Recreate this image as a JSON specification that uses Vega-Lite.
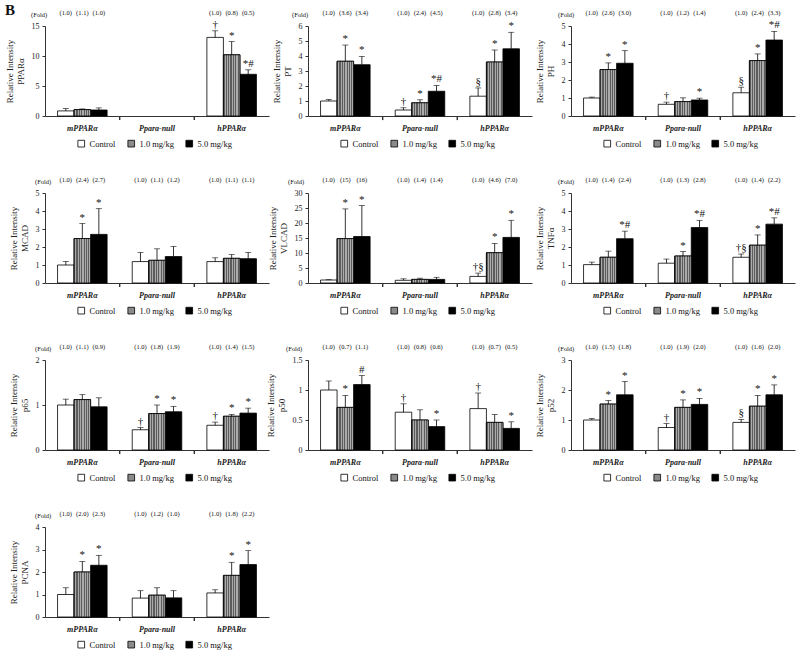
{
  "$schema": "https://vega.github.io/schema/vega-lite/v6.json",
  "padding": {"left": 5, "top": 3, "right": 5, "bottom": 5},
  "title": {"text": "B", "anchor": "start", "fontSize": 15, "fontWeight": "bold", "offset": -8, "font": "Liberation Serif", "color": "#111"},
  "data": {"values": [
    {"p":"PPARα","g":"mPPARα","d":"Control","v":0.85,"hi":1.25,"s":"","f":"(1.0)"},
    {"p":"PPARα","g":"mPPARα","d":"1.0 mg/kg","v":1.07,"hi":1.18,"s":"","f":"(1.1)"},
    {"p":"PPARα","g":"mPPARα","d":"5.0 mg/kg","v":1.0,"hi":1.35,"s":"","f":"(1.0)"},
    {"p":"PPARα","g":"hPPARα","d":"Control","v":13.1,"hi":14.2,"s":"†","f":"(1.0)"},
    {"p":"PPARα","g":"hPPARα","d":"1.0 mg/kg","v":10.2,"hi":12.4,"s":"*","f":"(0.8)"},
    {"p":"PPARα","g":"hPPARα","d":"5.0 mg/kg","v":6.95,"hi":7.7,"s":"*#","f":"(0.5)"},

    {"p":"PT","g":"mPPARα","d":"Control","v":1.0,"hi":1.1,"s":"","f":"(1.0)"},
    {"p":"PT","g":"mPPARα","d":"1.0 mg/kg","v":3.65,"hi":4.73,"s":"*","f":"(3.6)"},
    {"p":"PT","g":"mPPARα","d":"5.0 mg/kg","v":3.42,"hi":3.97,"s":"*","f":"(3.4)"},
    {"p":"PT","g":"Ppara-null","d":"Control","v":0.4,"hi":0.55,"s":"†","f":"(1.0)"},
    {"p":"PT","g":"Ppara-null","d":"1.0 mg/kg","v":0.88,"hi":1.08,"s":"*","f":"(2.4)"},
    {"p":"PT","g":"Ppara-null","d":"5.0 mg/kg","v":1.65,"hi":2.04,"s":"*#","f":"(4.5)"},
    {"p":"PT","g":"hPPARα","d":"Control","v":1.32,"hi":1.87,"s":"§","f":"(1.0)"},
    {"p":"PT","g":"hPPARα","d":"1.0 mg/kg","v":3.6,"hi":4.4,"s":"*","f":"(2.8)"},
    {"p":"PT","g":"hPPARα","d":"5.0 mg/kg","v":4.48,"hi":5.58,"s":"*","f":"(3.4)"},

    {"p":"PH","g":"mPPARα","d":"Control","v":1.0,"hi":1.05,"s":"","f":"(1.0)"},
    {"p":"PH","g":"mPPARα","d":"1.0 mg/kg","v":2.58,"hi":2.95,"s":"*","f":"(2.6)"},
    {"p":"PH","g":"mPPARα","d":"5.0 mg/kg","v":2.93,"hi":3.63,"s":"*","f":"(3.0)"},
    {"p":"PH","g":"Ppara-null","d":"Control","v":0.65,"hi":0.77,"s":"†","f":"(1.0)"},
    {"p":"PH","g":"Ppara-null","d":"1.0 mg/kg","v":0.8,"hi":1.01,"s":"","f":"(1.2)"},
    {"p":"PH","g":"Ppara-null","d":"5.0 mg/kg","v":0.89,"hi":0.99,"s":"*","f":"(1.4)"},
    {"p":"PH","g":"hPPARα","d":"Control","v":1.29,"hi":1.6,"s":"§","f":"(1.0)"},
    {"p":"PH","g":"hPPARα","d":"1.0 mg/kg","v":3.08,"hi":3.45,"s":"*","f":"(2.4)"},
    {"p":"PH","g":"hPPARα","d":"5.0 mg/kg","v":4.22,"hi":4.7,"s":"*#","f":"(3.3)"},

    {"p":"MCAD","g":"mPPARα","d":"Control","v":1.0,"hi":1.2,"s":"","f":"(1.0)"},
    {"p":"MCAD","g":"mPPARα","d":"1.0 mg/kg","v":2.47,"hi":3.3,"s":"*","f":"(2.4)"},
    {"p":"MCAD","g":"mPPARα","d":"5.0 mg/kg","v":2.7,"hi":4.13,"s":"*","f":"(2.7)"},
    {"p":"MCAD","g":"Ppara-null","d":"Control","v":1.19,"hi":1.7,"s":"","f":"(1.0)"},
    {"p":"MCAD","g":"Ppara-null","d":"1.0 mg/kg","v":1.26,"hi":1.9,"s":"","f":"(1.1)"},
    {"p":"MCAD","g":"Ppara-null","d":"5.0 mg/kg","v":1.47,"hi":2.03,"s":"","f":"(1.2)"},
    {"p":"MCAD","g":"hPPARα","d":"Control","v":1.19,"hi":1.4,"s":"","f":"(1.0)"},
    {"p":"MCAD","g":"hPPARα","d":"1.0 mg/kg","v":1.37,"hi":1.58,"s":"","f":"(1.1)"},
    {"p":"MCAD","g":"hPPARα","d":"5.0 mg/kg","v":1.35,"hi":1.7,"s":"","f":"(1.1)"},

    {"p":"VLCAD","g":"mPPARα","d":"Control","v":1.0,"hi":1.1,"s":"","f":"(1.0)"},
    {"p":"VLCAD","g":"mPPARα","d":"1.0 mg/kg","v":14.8,"hi":24.7,"s":"*","f":"(15)"},
    {"p":"VLCAD","g":"mPPARα","d":"5.0 mg/kg","v":15.5,"hi":25.8,"s":"*","f":"(16)"},
    {"p":"VLCAD","g":"Ppara-null","d":"Control","v":0.9,"hi":1.4,"s":"","f":"(1.0)"},
    {"p":"VLCAD","g":"Ppara-null","d":"1.0 mg/kg","v":1.2,"hi":1.6,"s":"","f":"(1.4)"},
    {"p":"VLCAD","g":"Ppara-null","d":"5.0 mg/kg","v":1.2,"hi":1.9,"s":"","f":"(1.4)"},
    {"p":"VLCAD","g":"hPPARα","d":"Control","v":2.2,"hi":3.3,"s":"†§","f":"(1.0)"},
    {"p":"VLCAD","g":"hPPARα","d":"1.0 mg/kg","v":10.1,"hi":13.2,"s":"*","f":"(4.6)"},
    {"p":"VLCAD","g":"hPPARα","d":"5.0 mg/kg","v":15.2,"hi":20.9,"s":"*","f":"(7.0)"},

    {"p":"TNFα","g":"mPPARα","d":"Control","v":1.02,"hi":1.16,"s":"","f":"(1.0)"},
    {"p":"TNFα","g":"mPPARα","d":"1.0 mg/kg","v":1.43,"hi":1.77,"s":"","f":"(1.4)"},
    {"p":"TNFα","g":"mPPARα","d":"5.0 mg/kg","v":2.46,"hi":2.88,"s":"*#","f":"(2.4)"},
    {"p":"TNFα","g":"Ppara-null","d":"Control","v":1.1,"hi":1.33,"s":"","f":"(1.0)"},
    {"p":"TNFα","g":"Ppara-null","d":"1.0 mg/kg","v":1.5,"hi":1.75,"s":"*","f":"(1.3)"},
    {"p":"TNFα","g":"Ppara-null","d":"5.0 mg/kg","v":3.08,"hi":3.48,"s":"*#","f":"(2.8)"},
    {"p":"TNFα","g":"hPPARα","d":"Control","v":1.43,"hi":1.61,"s":"†§","f":"(1.0)"},
    {"p":"TNFα","g":"hPPARα","d":"1.0 mg/kg","v":2.1,"hi":2.67,"s":"*","f":"(1.4)"},
    {"p":"TNFα","g":"hPPARα","d":"5.0 mg/kg","v":3.27,"hi":3.62,"s":"*#","f":"(2.2)"},

    {"p":"p65","g":"mPPARα","d":"Control","v":1.0,"hi":1.13,"s":"","f":"(1.0)"},
    {"p":"p65","g":"mPPARα","d":"1.0 mg/kg","v":1.12,"hi":1.23,"s":"","f":"(1.1)"},
    {"p":"p65","g":"mPPARα","d":"5.0 mg/kg","v":0.96,"hi":1.16,"s":"","f":"(0.9)"},
    {"p":"p65","g":"Ppara-null","d":"Control","v":0.45,"hi":0.5,"s":"†","f":"(1.0)"},
    {"p":"p65","g":"Ppara-null","d":"1.0 mg/kg","v":0.81,"hi":1.0,"s":"*","f":"(1.8)"},
    {"p":"p65","g":"Ppara-null","d":"5.0 mg/kg","v":0.85,"hi":0.97,"s":"*","f":"(1.9)"},
    {"p":"p65","g":"hPPARα","d":"Control","v":0.55,"hi":0.62,"s":"†","f":"(1.0)"},
    {"p":"p65","g":"hPPARα","d":"1.0 mg/kg","v":0.75,"hi":0.79,"s":"*","f":"(1.4)"},
    {"p":"p65","g":"hPPARα","d":"5.0 mg/kg","v":0.82,"hi":0.93,"s":"*","f":"(1.5)"},

    {"p":"p50","g":"mPPARα","d":"Control","v":1.0,"hi":1.15,"s":"","f":"(1.0)"},
    {"p":"p50","g":"mPPARα","d":"1.0 mg/kg","v":0.71,"hi":0.91,"s":"*","f":"(0.7)"},
    {"p":"p50","g":"mPPARα","d":"5.0 mg/kg","v":1.09,"hi":1.24,"s":"#","f":"(1.1)"},
    {"p":"p50","g":"Ppara-null","d":"Control","v":0.63,"hi":0.77,"s":"†","f":"(1.0)"},
    {"p":"p50","g":"Ppara-null","d":"1.0 mg/kg","v":0.5,"hi":0.67,"s":"","f":"(0.8)"},
    {"p":"p50","g":"Ppara-null","d":"5.0 mg/kg","v":0.39,"hi":0.5,"s":"*","f":"(0.6)"},
    {"p":"p50","g":"hPPARα","d":"Control","v":0.69,"hi":0.95,"s":"†","f":"(1.0)"},
    {"p":"p50","g":"hPPARα","d":"1.0 mg/kg","v":0.46,"hi":0.59,"s":"","f":"(0.7)"},
    {"p":"p50","g":"hPPARα","d":"5.0 mg/kg","v":0.36,"hi":0.47,"s":"*","f":"(0.5)"},

    {"p":"p52","g":"mPPARα","d":"Control","v":1.0,"hi":1.05,"s":"","f":"(1.0)"},
    {"p":"p52","g":"mPPARα","d":"1.0 mg/kg","v":1.53,"hi":1.65,"s":"*","f":"(1.5)"},
    {"p":"p52","g":"mPPARα","d":"5.0 mg/kg","v":1.84,"hi":2.28,"s":"*","f":"(1.8)"},
    {"p":"p52","g":"Ppara-null","d":"Control","v":0.75,"hi":0.88,"s":"†","f":"(1.0)"},
    {"p":"p52","g":"Ppara-null","d":"1.0 mg/kg","v":1.42,"hi":1.67,"s":"*","f":"(1.9)"},
    {"p":"p52","g":"Ppara-null","d":"5.0 mg/kg","v":1.52,"hi":1.72,"s":"*","f":"(2.0)"},
    {"p":"p52","g":"hPPARα","d":"Control","v":0.92,"hi":1.02,"s":"§","f":"(1.0)"},
    {"p":"p52","g":"hPPARα","d":"1.0 mg/kg","v":1.46,"hi":1.82,"s":"*","f":"(1.6)"},
    {"p":"p52","g":"hPPARα","d":"5.0 mg/kg","v":1.84,"hi":2.17,"s":"*","f":"(2.0)"},

    {"p":"PCNA","g":"mPPARα","d":"Control","v":1.0,"hi":1.3,"s":"","f":"(1.0)"},
    {"p":"PCNA","g":"mPPARα","d":"1.0 mg/kg","v":2.0,"hi":2.47,"s":"*","f":"(2.0)"},
    {"p":"PCNA","g":"mPPARα","d":"5.0 mg/kg","v":2.3,"hi":2.74,"s":"*","f":"(2.3)"},
    {"p":"PCNA","g":"Ppara-null","d":"Control","v":0.84,"hi":1.17,"s":"","f":"(1.0)"},
    {"p":"PCNA","g":"Ppara-null","d":"1.0 mg/kg","v":0.97,"hi":1.3,"s":"","f":"(1.2)"},
    {"p":"PCNA","g":"Ppara-null","d":"5.0 mg/kg","v":0.85,"hi":1.17,"s":"","f":"(1.0)"},
    {"p":"PCNA","g":"hPPARα","d":"Control","v":1.07,"hi":1.21,"s":"","f":"(1.0)"},
    {"p":"PCNA","g":"hPPARα","d":"1.0 mg/kg","v":1.85,"hi":2.43,"s":"*","f":"(1.8)"},
    {"p":"PCNA","g":"hPPARα","d":"5.0 mg/kg","v":2.33,"hi":2.95,"s":"*","f":"(2.2)"}
  ]},
  "columns": 3,
  "spacing": {"row": 77, "column": 39},
  "bounds": "flush",
  "resolve": {"scale": {"fill": "independent"}, "legend": {"fill": "independent"}},
  "concat": [
    {"width": 224, "height": 90,
     "title": {"text": "(Fold)", "anchor": "start", "fontSize": 6.5, "fontWeight": "normal", "dx": 26, "dy": 8, "offset": 0, "color": "#111"},
     "transform": [{"filter": "datum.p === 'PPARα'"}],
     "encoding": {"x": {"field": "g", "type": "nominal", "scale": {"domain": ["mPPARα", "Ppara-null", "hPPARα"], "paddingInner": 0, "paddingOuter": 0}, "axis": {"title": null}}},
     "layer": [
       {"mark": {"type": "bar", "stroke": "black", "strokeWidth": 0.8},
        "encoding": {
          "xOffset": {"field": "d", "scale": {"domain": ["Control", "1.0 mg/kg", "5.0 mg/kg"], "paddingInner": 0, "paddingOuter": 0.76}},
          "y": {"field": "v", "type": "quantitative", "scale": {"domain": [0, 15], "nice": false}, "axis": {"title": ["Relative Intensity", "PPARα"], "tickCount": 3, "labelOverlap": false, "labelBound": false, "labelFlush": false}},
          "fill": {"field": "d", "type": "nominal", "scale": {"domain": ["Control", "1.0 mg/kg", "5.0 mg/kg"], "range": ["#ffffff", "#8a8a8a", "#000000"]}, "legend": {"title": null, "orient": "none", "legendX": 32, "legendY": 113}}}},
       {"transform": [{"filter": "datum.d === '1.0 mg/kg'"}],
        "mark": {"type": "bar", "stroke": "black", "strokeWidth": 0.8, "fill": {"gradient": "linear", "x1": 0, "x2": 1, "y1": 0, "y2": 0, "stops": [{"offset": 0, "color": "#5c5c5c"}, {"offset": 0.071, "color": "#5c5c5c"}, {"offset": 0.071, "color": "#ababab"}, {"offset": 0.143, "color": "#ababab"}, {"offset": 0.143, "color": "#5c5c5c"}, {"offset": 0.214, "color": "#5c5c5c"}, {"offset": 0.214, "color": "#ababab"}, {"offset": 0.286, "color": "#ababab"}, {"offset": 0.286, "color": "#5c5c5c"}, {"offset": 0.357, "color": "#5c5c5c"}, {"offset": 0.357, "color": "#ababab"}, {"offset": 0.429, "color": "#ababab"}, {"offset": 0.429, "color": "#5c5c5c"}, {"offset": 0.5, "color": "#5c5c5c"}, {"offset": 0.5, "color": "#ababab"}, {"offset": 0.571, "color": "#ababab"}, {"offset": 0.571, "color": "#5c5c5c"}, {"offset": 0.643, "color": "#5c5c5c"}, {"offset": 0.643, "color": "#ababab"}, {"offset": 0.714, "color": "#ababab"}, {"offset": 0.714, "color": "#5c5c5c"}, {"offset": 0.786, "color": "#5c5c5c"}, {"offset": 0.786, "color": "#ababab"}, {"offset": 0.857, "color": "#ababab"}, {"offset": 0.857, "color": "#5c5c5c"}, {"offset": 0.929, "color": "#5c5c5c"}, {"offset": 0.929, "color": "#ababab"}, {"offset": 1, "color": "#ababab"}]}},
        "encoding": {"xOffset": {"field": "d"}, "y": {"field": "v", "type": "quantitative"}}},
       {"mark": {"type": "rule", "color": "black", "strokeWidth": 0.8}, "encoding": {"xOffset": {"field": "d"}, "y": {"field": "v", "type": "quantitative"}, "y2": {"field": "hi"}}},
       {"mark": {"type": "tick", "color": "black", "thickness": 0.8, "size": 6}, "encoding": {"xOffset": {"field": "d"}, "y": {"field": "hi", "type": "quantitative"}}},
       {"mark": {"type": "text", "baseline": "bottom", "dy": -1, "fontSize": 11, "fill": "#111"}, "encoding": {"xOffset": {"field": "d"}, "y": {"field": "hi", "type": "quantitative"}, "text": {"field": "s"}}},
       {"mark": {"type": "text", "baseline": "middle", "dy": -13, "fontSize": 6.5, "fill": "#111"}, "encoding": {"xOffset": {"field": "d"}, "y": {"datum": 15}, "text": {"field": "f"}}},
       {"transform": [{"filter": "datum.g === 'mPPARα'"}], "mark": {"type": "rule", "color": "#333", "strokeWidth": 1}, "encoding": {"x": {"field": "g", "type": "nominal", "bandPosition": 1}, "y": {"datum": 0}, "y2": {"datum": -0.67}}},
       {"transform": [{"filter": "datum.g === 'hPPARα'"}], "mark": {"type": "rule", "color": "#333", "strokeWidth": 1}, "encoding": {"x": {"field": "g", "type": "nominal", "bandPosition": 0}, "y": {"datum": 0}, "y2": {"datum": -0.67}}}
     ]},
    {"width": 224, "height": 90,
     "title": {"text": "(Fold)", "anchor": "start", "fontSize": 6.5, "fontWeight": "normal", "dx": 20, "dy": 8, "offset": 0, "color": "#111"},
     "transform": [{"filter": "datum.p === 'PT'"}],
     "encoding": {"x": {"field": "g", "type": "nominal", "scale": {"domain": ["mPPARα", "Ppara-null", "hPPARα"], "paddingInner": 0, "paddingOuter": 0}, "axis": {"title": null}}},
     "layer": [
       {"mark": {"type": "bar", "stroke": "black", "strokeWidth": 0.8},
        "encoding": {
          "xOffset": {"field": "d", "scale": {"domain": ["Control", "1.0 mg/kg", "5.0 mg/kg"], "paddingInner": 0, "paddingOuter": 0.76}},
          "y": {"field": "v", "type": "quantitative", "scale": {"domain": [0, 6], "nice": false}, "axis": {"title": ["Relative Intensity", "PT"], "tickCount": 6, "labelOverlap": false, "labelBound": false, "labelFlush": false}},
          "fill": {"field": "d", "type": "nominal", "scale": {"domain": ["Control", "1.0 mg/kg", "5.0 mg/kg"], "range": ["#ffffff", "#8a8a8a", "#000000"]}, "legend": {"title": null, "orient": "none", "legendX": 32, "legendY": 113}}}},
       {"transform": [{"filter": "datum.d === '1.0 mg/kg'"}],
        "mark": {"type": "bar", "stroke": "black", "strokeWidth": 0.8, "fill": {"gradient": "linear", "x1": 0, "x2": 1, "y1": 0, "y2": 0, "stops": [{"offset": 0, "color": "#5c5c5c"}, {"offset": 0.071, "color": "#5c5c5c"}, {"offset": 0.071, "color": "#ababab"}, {"offset": 0.143, "color": "#ababab"}, {"offset": 0.143, "color": "#5c5c5c"}, {"offset": 0.214, "color": "#5c5c5c"}, {"offset": 0.214, "color": "#ababab"}, {"offset": 0.286, "color": "#ababab"}, {"offset": 0.286, "color": "#5c5c5c"}, {"offset": 0.357, "color": "#5c5c5c"}, {"offset": 0.357, "color": "#ababab"}, {"offset": 0.429, "color": "#ababab"}, {"offset": 0.429, "color": "#5c5c5c"}, {"offset": 0.5, "color": "#5c5c5c"}, {"offset": 0.5, "color": "#ababab"}, {"offset": 0.571, "color": "#ababab"}, {"offset": 0.571, "color": "#5c5c5c"}, {"offset": 0.643, "color": "#5c5c5c"}, {"offset": 0.643, "color": "#ababab"}, {"offset": 0.714, "color": "#ababab"}, {"offset": 0.714, "color": "#5c5c5c"}, {"offset": 0.786, "color": "#5c5c5c"}, {"offset": 0.786, "color": "#ababab"}, {"offset": 0.857, "color": "#ababab"}, {"offset": 0.857, "color": "#5c5c5c"}, {"offset": 0.929, "color": "#5c5c5c"}, {"offset": 0.929, "color": "#ababab"}, {"offset": 1, "color": "#ababab"}]}},
        "encoding": {"xOffset": {"field": "d"}, "y": {"field": "v", "type": "quantitative"}}},
       {"mark": {"type": "rule", "color": "black", "strokeWidth": 0.8}, "encoding": {"xOffset": {"field": "d"}, "y": {"field": "v", "type": "quantitative"}, "y2": {"field": "hi"}}},
       {"mark": {"type": "tick", "color": "black", "thickness": 0.8, "size": 6}, "encoding": {"xOffset": {"field": "d"}, "y": {"field": "hi", "type": "quantitative"}}},
       {"mark": {"type": "text", "baseline": "bottom", "dy": -1, "fontSize": 11, "fill": "#111"}, "encoding": {"xOffset": {"field": "d"}, "y": {"field": "hi", "type": "quantitative"}, "text": {"field": "s"}}},
       {"mark": {"type": "text", "baseline": "middle", "dy": -13, "fontSize": 6.5, "fill": "#111"}, "encoding": {"xOffset": {"field": "d"}, "y": {"datum": 6}, "text": {"field": "f"}}},
       {"transform": [{"filter": "datum.g === 'mPPARα'"}], "mark": {"type": "rule", "color": "#333", "strokeWidth": 1}, "encoding": {"x": {"field": "g", "type": "nominal", "bandPosition": 1}, "y": {"datum": 0}, "y2": {"datum": -0.27}}},
       {"transform": [{"filter": "datum.g === 'hPPARα'"}], "mark": {"type": "rule", "color": "#333", "strokeWidth": 1}, "encoding": {"x": {"field": "g", "type": "nominal", "bandPosition": 0}, "y": {"datum": 0}, "y2": {"datum": -0.27}}}
     ]},
    {"width": 224, "height": 90,
     "title": {"text": "(Fold)", "anchor": "start", "fontSize": 6.5, "fontWeight": "normal", "dx": 23, "dy": 8, "offset": 0, "color": "#111"},
     "transform": [{"filter": "datum.p === 'PH'"}],
     "encoding": {"x": {"field": "g", "type": "nominal", "scale": {"domain": ["mPPARα", "Ppara-null", "hPPARα"], "paddingInner": 0, "paddingOuter": 0}, "axis": {"title": null}}},
     "layer": [
       {"mark": {"type": "bar", "stroke": "black", "strokeWidth": 0.8},
        "encoding": {
          "xOffset": {"field": "d", "scale": {"domain": ["Control", "1.0 mg/kg", "5.0 mg/kg"], "paddingInner": 0, "paddingOuter": 0.76}},
          "y": {"field": "v", "type": "quantitative", "scale": {"domain": [0, 5], "nice": false}, "axis": {"title": ["Relative Intensity", "PH"], "tickCount": 5, "labelOverlap": false, "labelBound": false, "labelFlush": false}},
          "fill": {"field": "d", "type": "nominal", "scale": {"domain": ["Control", "1.0 mg/kg", "5.0 mg/kg"], "range": ["#ffffff", "#8a8a8a", "#000000"]}, "legend": {"title": null, "orient": "none", "legendX": 32, "legendY": 113}}}},
       {"transform": [{"filter": "datum.d === '1.0 mg/kg'"}],
        "mark": {"type": "bar", "stroke": "black", "strokeWidth": 0.8, "fill": {"gradient": "linear", "x1": 0, "x2": 1, "y1": 0, "y2": 0, "stops": [{"offset": 0, "color": "#5c5c5c"}, {"offset": 0.071, "color": "#5c5c5c"}, {"offset": 0.071, "color": "#ababab"}, {"offset": 0.143, "color": "#ababab"}, {"offset": 0.143, "color": "#5c5c5c"}, {"offset": 0.214, "color": "#5c5c5c"}, {"offset": 0.214, "color": "#ababab"}, {"offset": 0.286, "color": "#ababab"}, {"offset": 0.286, "color": "#5c5c5c"}, {"offset": 0.357, "color": "#5c5c5c"}, {"offset": 0.357, "color": "#ababab"}, {"offset": 0.429, "color": "#ababab"}, {"offset": 0.429, "color": "#5c5c5c"}, {"offset": 0.5, "color": "#5c5c5c"}, {"offset": 0.5, "color": "#ababab"}, {"offset": 0.571, "color": "#ababab"}, {"offset": 0.571, "color": "#5c5c5c"}, {"offset": 0.643, "color": "#5c5c5c"}, {"offset": 0.643, "color": "#ababab"}, {"offset": 0.714, "color": "#ababab"}, {"offset": 0.714, "color": "#5c5c5c"}, {"offset": 0.786, "color": "#5c5c5c"}, {"offset": 0.786, "color": "#ababab"}, {"offset": 0.857, "color": "#ababab"}, {"offset": 0.857, "color": "#5c5c5c"}, {"offset": 0.929, "color": "#5c5c5c"}, {"offset": 0.929, "color": "#ababab"}, {"offset": 1, "color": "#ababab"}]}},
        "encoding": {"xOffset": {"field": "d"}, "y": {"field": "v", "type": "quantitative"}}},
       {"mark": {"type": "rule", "color": "black", "strokeWidth": 0.8}, "encoding": {"xOffset": {"field": "d"}, "y": {"field": "v", "type": "quantitative"}, "y2": {"field": "hi"}}},
       {"mark": {"type": "tick", "color": "black", "thickness": 0.8, "size": 6}, "encoding": {"xOffset": {"field": "d"}, "y": {"field": "hi", "type": "quantitative"}}},
       {"mark": {"type": "text", "baseline": "bottom", "dy": -1, "fontSize": 11, "fill": "#111"}, "encoding": {"xOffset": {"field": "d"}, "y": {"field": "hi", "type": "quantitative"}, "text": {"field": "s"}}},
       {"mark": {"type": "text", "baseline": "middle", "dy": -13, "fontSize": 6.5, "fill": "#111"}, "encoding": {"xOffset": {"field": "d"}, "y": {"datum": 5}, "text": {"field": "f"}}},
       {"transform": [{"filter": "datum.g === 'mPPARα'"}], "mark": {"type": "rule", "color": "#333", "strokeWidth": 1}, "encoding": {"x": {"field": "g", "type": "nominal", "bandPosition": 1}, "y": {"datum": 0}, "y2": {"datum": -0.22}}},
       {"transform": [{"filter": "datum.g === 'hPPARα'"}], "mark": {"type": "rule", "color": "#333", "strokeWidth": 1}, "encoding": {"x": {"field": "g", "type": "nominal", "bandPosition": 0}, "y": {"datum": 0}, "y2": {"datum": -0.22}}}
     ]},
    {"width": 224, "height": 90,
     "title": {"text": "(Fold)", "anchor": "start", "fontSize": 6.5, "fontWeight": "normal", "dx": 26, "dy": 8, "offset": 0, "color": "#111"},
     "transform": [{"filter": "datum.p === 'MCAD'"}],
     "encoding": {"x": {"field": "g", "type": "nominal", "scale": {"domain": ["mPPARα", "Ppara-null", "hPPARα"], "paddingInner": 0, "paddingOuter": 0}, "axis": {"title": null}}},
     "layer": [
       {"mark": {"type": "bar", "stroke": "black", "strokeWidth": 0.8},
        "encoding": {
          "xOffset": {"field": "d", "scale": {"domain": ["Control", "1.0 mg/kg", "5.0 mg/kg"], "paddingInner": 0, "paddingOuter": 0.76}},
          "y": {"field": "v", "type": "quantitative", "scale": {"domain": [0, 5], "nice": false}, "axis": {"title": ["Relative Intensity", "MCAD"], "tickCount": 5, "labelOverlap": false, "labelBound": false, "labelFlush": false}},
          "fill": {"field": "d", "type": "nominal", "scale": {"domain": ["Control", "1.0 mg/kg", "5.0 mg/kg"], "range": ["#ffffff", "#8a8a8a", "#000000"]}, "legend": {"title": null, "orient": "none", "legendX": 32, "legendY": 113}}}},
       {"transform": [{"filter": "datum.d === '1.0 mg/kg'"}],
        "mark": {"type": "bar", "stroke": "black", "strokeWidth": 0.8, "fill": {"gradient": "linear", "x1": 0, "x2": 1, "y1": 0, "y2": 0, "stops": [{"offset": 0, "color": "#5c5c5c"}, {"offset": 0.071, "color": "#5c5c5c"}, {"offset": 0.071, "color": "#ababab"}, {"offset": 0.143, "color": "#ababab"}, {"offset": 0.143, "color": "#5c5c5c"}, {"offset": 0.214, "color": "#5c5c5c"}, {"offset": 0.214, "color": "#ababab"}, {"offset": 0.286, "color": "#ababab"}, {"offset": 0.286, "color": "#5c5c5c"}, {"offset": 0.357, "color": "#5c5c5c"}, {"offset": 0.357, "color": "#ababab"}, {"offset": 0.429, "color": "#ababab"}, {"offset": 0.429, "color": "#5c5c5c"}, {"offset": 0.5, "color": "#5c5c5c"}, {"offset": 0.5, "color": "#ababab"}, {"offset": 0.571, "color": "#ababab"}, {"offset": 0.571, "color": "#5c5c5c"}, {"offset": 0.643, "color": "#5c5c5c"}, {"offset": 0.643, "color": "#ababab"}, {"offset": 0.714, "color": "#ababab"}, {"offset": 0.714, "color": "#5c5c5c"}, {"offset": 0.786, "color": "#5c5c5c"}, {"offset": 0.786, "color": "#ababab"}, {"offset": 0.857, "color": "#ababab"}, {"offset": 0.857, "color": "#5c5c5c"}, {"offset": 0.929, "color": "#5c5c5c"}, {"offset": 0.929, "color": "#ababab"}, {"offset": 1, "color": "#ababab"}]}},
        "encoding": {"xOffset": {"field": "d"}, "y": {"field": "v", "type": "quantitative"}}},
       {"mark": {"type": "rule", "color": "black", "strokeWidth": 0.8}, "encoding": {"xOffset": {"field": "d"}, "y": {"field": "v", "type": "quantitative"}, "y2": {"field": "hi"}}},
       {"mark": {"type": "tick", "color": "black", "thickness": 0.8, "size": 6}, "encoding": {"xOffset": {"field": "d"}, "y": {"field": "hi", "type": "quantitative"}}},
       {"mark": {"type": "text", "baseline": "bottom", "dy": -1, "fontSize": 11, "fill": "#111"}, "encoding": {"xOffset": {"field": "d"}, "y": {"field": "hi", "type": "quantitative"}, "text": {"field": "s"}}},
       {"mark": {"type": "text", "baseline": "middle", "dy": -13, "fontSize": 6.5, "fill": "#111"}, "encoding": {"xOffset": {"field": "d"}, "y": {"datum": 5}, "text": {"field": "f"}}},
       {"transform": [{"filter": "datum.g === 'mPPARα'"}], "mark": {"type": "rule", "color": "#333", "strokeWidth": 1}, "encoding": {"x": {"field": "g", "type": "nominal", "bandPosition": 1}, "y": {"datum": 0}, "y2": {"datum": -0.22}}},
       {"transform": [{"filter": "datum.g === 'hPPARα'"}], "mark": {"type": "rule", "color": "#333", "strokeWidth": 1}, "encoding": {"x": {"field": "g", "type": "nominal", "bandPosition": 0}, "y": {"datum": 0}, "y2": {"datum": -0.22}}}
     ]},
    {"width": 224, "height": 90,
     "title": {"text": "(Fold)", "anchor": "start", "fontSize": 6.5, "fontWeight": "normal", "dx": 20, "dy": 8, "offset": 0, "color": "#111"},
     "transform": [{"filter": "datum.p === 'VLCAD'"}],
     "encoding": {"x": {"field": "g", "type": "nominal", "scale": {"domain": ["mPPARα", "Ppara-null", "hPPARα"], "paddingInner": 0, "paddingOuter": 0}, "axis": {"title": null}}},
     "layer": [
       {"mark": {"type": "bar", "stroke": "black", "strokeWidth": 0.8},
        "encoding": {
          "xOffset": {"field": "d", "scale": {"domain": ["Control", "1.0 mg/kg", "5.0 mg/kg"], "paddingInner": 0, "paddingOuter": 0.76}},
          "y": {"field": "v", "type": "quantitative", "scale": {"domain": [0, 30], "nice": false}, "axis": {"title": ["Relative Intensity", "VLCAD"], "tickCount": 6, "labelOverlap": false, "labelBound": false, "labelFlush": false}},
          "fill": {"field": "d", "type": "nominal", "scale": {"domain": ["Control", "1.0 mg/kg", "5.0 mg/kg"], "range": ["#ffffff", "#8a8a8a", "#000000"]}, "legend": {"title": null, "orient": "none", "legendX": 32, "legendY": 113}}}},
       {"transform": [{"filter": "datum.d === '1.0 mg/kg'"}],
        "mark": {"type": "bar", "stroke": "black", "strokeWidth": 0.8, "fill": {"gradient": "linear", "x1": 0, "x2": 1, "y1": 0, "y2": 0, "stops": [{"offset": 0, "color": "#5c5c5c"}, {"offset": 0.071, "color": "#5c5c5c"}, {"offset": 0.071, "color": "#ababab"}, {"offset": 0.143, "color": "#ababab"}, {"offset": 0.143, "color": "#5c5c5c"}, {"offset": 0.214, "color": "#5c5c5c"}, {"offset": 0.214, "color": "#ababab"}, {"offset": 0.286, "color": "#ababab"}, {"offset": 0.286, "color": "#5c5c5c"}, {"offset": 0.357, "color": "#5c5c5c"}, {"offset": 0.357, "color": "#ababab"}, {"offset": 0.429, "color": "#ababab"}, {"offset": 0.429, "color": "#5c5c5c"}, {"offset": 0.5, "color": "#5c5c5c"}, {"offset": 0.5, "color": "#ababab"}, {"offset": 0.571, "color": "#ababab"}, {"offset": 0.571, "color": "#5c5c5c"}, {"offset": 0.643, "color": "#5c5c5c"}, {"offset": 0.643, "color": "#ababab"}, {"offset": 0.714, "color": "#ababab"}, {"offset": 0.714, "color": "#5c5c5c"}, {"offset": 0.786, "color": "#5c5c5c"}, {"offset": 0.786, "color": "#ababab"}, {"offset": 0.857, "color": "#ababab"}, {"offset": 0.857, "color": "#5c5c5c"}, {"offset": 0.929, "color": "#5c5c5c"}, {"offset": 0.929, "color": "#ababab"}, {"offset": 1, "color": "#ababab"}]}},
        "encoding": {"xOffset": {"field": "d"}, "y": {"field": "v", "type": "quantitative"}}},
       {"mark": {"type": "rule", "color": "black", "strokeWidth": 0.8}, "encoding": {"xOffset": {"field": "d"}, "y": {"field": "v", "type": "quantitative"}, "y2": {"field": "hi"}}},
       {"mark": {"type": "tick", "color": "black", "thickness": 0.8, "size": 6}, "encoding": {"xOffset": {"field": "d"}, "y": {"field": "hi", "type": "quantitative"}}},
       {"mark": {"type": "text", "baseline": "bottom", "dy": -1, "fontSize": 11, "fill": "#111"}, "encoding": {"xOffset": {"field": "d"}, "y": {"field": "hi", "type": "quantitative"}, "text": {"field": "s"}}},
       {"mark": {"type": "text", "baseline": "middle", "dy": -13, "fontSize": 6.5, "fill": "#111"}, "encoding": {"xOffset": {"field": "d"}, "y": {"datum": 30}, "text": {"field": "f"}}},
       {"transform": [{"filter": "datum.g === 'mPPARα'"}], "mark": {"type": "rule", "color": "#333", "strokeWidth": 1}, "encoding": {"x": {"field": "g", "type": "nominal", "bandPosition": 1}, "y": {"datum": 0}, "y2": {"datum": -1.33}}},
       {"transform": [{"filter": "datum.g === 'hPPARα'"}], "mark": {"type": "rule", "color": "#333", "strokeWidth": 1}, "encoding": {"x": {"field": "g", "type": "nominal", "bandPosition": 0}, "y": {"datum": 0}, "y2": {"datum": -1.33}}}
     ]},
    {"width": 224, "height": 90,
     "title": {"text": "(Fold)", "anchor": "start", "fontSize": 6.5, "fontWeight": "normal", "dx": 23, "dy": 8, "offset": 0, "color": "#111"},
     "transform": [{"filter": "datum.p === 'TNFα'"}],
     "encoding": {"x": {"field": "g", "type": "nominal", "scale": {"domain": ["mPPARα", "Ppara-null", "hPPARα"], "paddingInner": 0, "paddingOuter": 0}, "axis": {"title": null}}},
     "layer": [
       {"mark": {"type": "bar", "stroke": "black", "strokeWidth": 0.8},
        "encoding": {
          "xOffset": {"field": "d", "scale": {"domain": ["Control", "1.0 mg/kg", "5.0 mg/kg"], "paddingInner": 0, "paddingOuter": 0.76}},
          "y": {"field": "v", "type": "quantitative", "scale": {"domain": [0, 5], "nice": false}, "axis": {"title": ["Relative Intensity", "TNFα"], "tickCount": 5, "labelOverlap": false, "labelBound": false, "labelFlush": false}},
          "fill": {"field": "d", "type": "nominal", "scale": {"domain": ["Control", "1.0 mg/kg", "5.0 mg/kg"], "range": ["#ffffff", "#8a8a8a", "#000000"]}, "legend": {"title": null, "orient": "none", "legendX": 32, "legendY": 113}}}},
       {"transform": [{"filter": "datum.d === '1.0 mg/kg'"}],
        "mark": {"type": "bar", "stroke": "black", "strokeWidth": 0.8, "fill": {"gradient": "linear", "x1": 0, "x2": 1, "y1": 0, "y2": 0, "stops": [{"offset": 0, "color": "#5c5c5c"}, {"offset": 0.071, "color": "#5c5c5c"}, {"offset": 0.071, "color": "#ababab"}, {"offset": 0.143, "color": "#ababab"}, {"offset": 0.143, "color": "#5c5c5c"}, {"offset": 0.214, "color": "#5c5c5c"}, {"offset": 0.214, "color": "#ababab"}, {"offset": 0.286, "color": "#ababab"}, {"offset": 0.286, "color": "#5c5c5c"}, {"offset": 0.357, "color": "#5c5c5c"}, {"offset": 0.357, "color": "#ababab"}, {"offset": 0.429, "color": "#ababab"}, {"offset": 0.429, "color": "#5c5c5c"}, {"offset": 0.5, "color": "#5c5c5c"}, {"offset": 0.5, "color": "#ababab"}, {"offset": 0.571, "color": "#ababab"}, {"offset": 0.571, "color": "#5c5c5c"}, {"offset": 0.643, "color": "#5c5c5c"}, {"offset": 0.643, "color": "#ababab"}, {"offset": 0.714, "color": "#ababab"}, {"offset": 0.714, "color": "#5c5c5c"}, {"offset": 0.786, "color": "#5c5c5c"}, {"offset": 0.786, "color": "#ababab"}, {"offset": 0.857, "color": "#ababab"}, {"offset": 0.857, "color": "#5c5c5c"}, {"offset": 0.929, "color": "#5c5c5c"}, {"offset": 0.929, "color": "#ababab"}, {"offset": 1, "color": "#ababab"}]}},
        "encoding": {"xOffset": {"field": "d"}, "y": {"field": "v", "type": "quantitative"}}},
       {"mark": {"type": "rule", "color": "black", "strokeWidth": 0.8}, "encoding": {"xOffset": {"field": "d"}, "y": {"field": "v", "type": "quantitative"}, "y2": {"field": "hi"}}},
       {"mark": {"type": "tick", "color": "black", "thickness": 0.8, "size": 6}, "encoding": {"xOffset": {"field": "d"}, "y": {"field": "hi", "type": "quantitative"}}},
       {"mark": {"type": "text", "baseline": "bottom", "dy": -1, "fontSize": 11, "fill": "#111"}, "encoding": {"xOffset": {"field": "d"}, "y": {"field": "hi", "type": "quantitative"}, "text": {"field": "s"}}},
       {"mark": {"type": "text", "baseline": "middle", "dy": -13, "fontSize": 6.5, "fill": "#111"}, "encoding": {"xOffset": {"field": "d"}, "y": {"datum": 5}, "text": {"field": "f"}}},
       {"transform": [{"filter": "datum.g === 'mPPARα'"}], "mark": {"type": "rule", "color": "#333", "strokeWidth": 1}, "encoding": {"x": {"field": "g", "type": "nominal", "bandPosition": 1}, "y": {"datum": 0}, "y2": {"datum": -0.22}}},
       {"transform": [{"filter": "datum.g === 'hPPARα'"}], "mark": {"type": "rule", "color": "#333", "strokeWidth": 1}, "encoding": {"x": {"field": "g", "type": "nominal", "bandPosition": 0}, "y": {"datum": 0}, "y2": {"datum": -0.22}}}
     ]},
    {"width": 224, "height": 90,
     "title": {"text": "(Fold)", "anchor": "start", "fontSize": 6.5, "fontWeight": "normal", "dx": 26, "dy": 8, "offset": 0, "color": "#111"},
     "transform": [{"filter": "datum.p === 'p65'"}],
     "encoding": {"x": {"field": "g", "type": "nominal", "scale": {"domain": ["mPPARα", "Ppara-null", "hPPARα"], "paddingInner": 0, "paddingOuter": 0}, "axis": {"title": null}}},
     "layer": [
       {"mark": {"type": "bar", "stroke": "black", "strokeWidth": 0.8},
        "encoding": {
          "xOffset": {"field": "d", "scale": {"domain": ["Control", "1.0 mg/kg", "5.0 mg/kg"], "paddingInner": 0, "paddingOuter": 0.76}},
          "y": {"field": "v", "type": "quantitative", "scale": {"domain": [0, 2], "nice": false}, "axis": {"title": ["Relative Intensity", "p65"], "tickCount": 2, "labelOverlap": false, "labelBound": false, "labelFlush": false}},
          "fill": {"field": "d", "type": "nominal", "scale": {"domain": ["Control", "1.0 mg/kg", "5.0 mg/kg"], "range": ["#ffffff", "#8a8a8a", "#000000"]}, "legend": {"title": null, "orient": "none", "legendX": 32, "legendY": 113}}}},
       {"transform": [{"filter": "datum.d === '1.0 mg/kg'"}],
        "mark": {"type": "bar", "stroke": "black", "strokeWidth": 0.8, "fill": {"gradient": "linear", "x1": 0, "x2": 1, "y1": 0, "y2": 0, "stops": [{"offset": 0, "color": "#5c5c5c"}, {"offset": 0.071, "color": "#5c5c5c"}, {"offset": 0.071, "color": "#ababab"}, {"offset": 0.143, "color": "#ababab"}, {"offset": 0.143, "color": "#5c5c5c"}, {"offset": 0.214, "color": "#5c5c5c"}, {"offset": 0.214, "color": "#ababab"}, {"offset": 0.286, "color": "#ababab"}, {"offset": 0.286, "color": "#5c5c5c"}, {"offset": 0.357, "color": "#5c5c5c"}, {"offset": 0.357, "color": "#ababab"}, {"offset": 0.429, "color": "#ababab"}, {"offset": 0.429, "color": "#5c5c5c"}, {"offset": 0.5, "color": "#5c5c5c"}, {"offset": 0.5, "color": "#ababab"}, {"offset": 0.571, "color": "#ababab"}, {"offset": 0.571, "color": "#5c5c5c"}, {"offset": 0.643, "color": "#5c5c5c"}, {"offset": 0.643, "color": "#ababab"}, {"offset": 0.714, "color": "#ababab"}, {"offset": 0.714, "color": "#5c5c5c"}, {"offset": 0.786, "color": "#5c5c5c"}, {"offset": 0.786, "color": "#ababab"}, {"offset": 0.857, "color": "#ababab"}, {"offset": 0.857, "color": "#5c5c5c"}, {"offset": 0.929, "color": "#5c5c5c"}, {"offset": 0.929, "color": "#ababab"}, {"offset": 1, "color": "#ababab"}]}},
        "encoding": {"xOffset": {"field": "d"}, "y": {"field": "v", "type": "quantitative"}}},
       {"mark": {"type": "rule", "color": "black", "strokeWidth": 0.8}, "encoding": {"xOffset": {"field": "d"}, "y": {"field": "v", "type": "quantitative"}, "y2": {"field": "hi"}}},
       {"mark": {"type": "tick", "color": "black", "thickness": 0.8, "size": 6}, "encoding": {"xOffset": {"field": "d"}, "y": {"field": "hi", "type": "quantitative"}}},
       {"mark": {"type": "text", "baseline": "bottom", "dy": -1, "fontSize": 11, "fill": "#111"}, "encoding": {"xOffset": {"field": "d"}, "y": {"field": "hi", "type": "quantitative"}, "text": {"field": "s"}}},
       {"mark": {"type": "text", "baseline": "middle", "dy": -13, "fontSize": 6.5, "fill": "#111"}, "encoding": {"xOffset": {"field": "d"}, "y": {"datum": 2}, "text": {"field": "f"}}},
       {"transform": [{"filter": "datum.g === 'mPPARα'"}], "mark": {"type": "rule", "color": "#333", "strokeWidth": 1}, "encoding": {"x": {"field": "g", "type": "nominal", "bandPosition": 1}, "y": {"datum": 0}, "y2": {"datum": -0.089}}},
       {"transform": [{"filter": "datum.g === 'hPPARα'"}], "mark": {"type": "rule", "color": "#333", "strokeWidth": 1}, "encoding": {"x": {"field": "g", "type": "nominal", "bandPosition": 0}, "y": {"datum": 0}, "y2": {"datum": -0.089}}}
     ]},
    {"width": 224, "height": 90,
     "title": {"text": "(Fold)", "anchor": "start", "fontSize": 6.5, "fontWeight": "normal", "dx": 20, "dy": 8, "offset": 0, "color": "#111"},
     "transform": [{"filter": "datum.p === 'p50'"}],
     "encoding": {"x": {"field": "g", "type": "nominal", "scale": {"domain": ["mPPARα", "Ppara-null", "hPPARα"], "paddingInner": 0, "paddingOuter": 0}, "axis": {"title": null}}},
     "layer": [
       {"mark": {"type": "bar", "stroke": "black", "strokeWidth": 0.8},
        "encoding": {
          "xOffset": {"field": "d", "scale": {"domain": ["Control", "1.0 mg/kg", "5.0 mg/kg"], "paddingInner": 0, "paddingOuter": 0.76}},
          "y": {"field": "v", "type": "quantitative", "scale": {"domain": [0, 1.5], "nice": false}, "axis": {"title": ["Relative Intensity", "p50"], "tickCount": 3, "format": "~r", "labelOverlap": false, "labelBound": false, "labelFlush": false}},
          "fill": {"field": "d", "type": "nominal", "scale": {"domain": ["Control", "1.0 mg/kg", "5.0 mg/kg"], "range": ["#ffffff", "#8a8a8a", "#000000"]}, "legend": {"title": null, "orient": "none", "legendX": 32, "legendY": 113}}}},
       {"transform": [{"filter": "datum.d === '1.0 mg/kg'"}],
        "mark": {"type": "bar", "stroke": "black", "strokeWidth": 0.8, "fill": {"gradient": "linear", "x1": 0, "x2": 1, "y1": 0, "y2": 0, "stops": [{"offset": 0, "color": "#5c5c5c"}, {"offset": 0.071, "color": "#5c5c5c"}, {"offset": 0.071, "color": "#ababab"}, {"offset": 0.143, "color": "#ababab"}, {"offset": 0.143, "color": "#5c5c5c"}, {"offset": 0.214, "color": "#5c5c5c"}, {"offset": 0.214, "color": "#ababab"}, {"offset": 0.286, "color": "#ababab"}, {"offset": 0.286, "color": "#5c5c5c"}, {"offset": 0.357, "color": "#5c5c5c"}, {"offset": 0.357, "color": "#ababab"}, {"offset": 0.429, "color": "#ababab"}, {"offset": 0.429, "color": "#5c5c5c"}, {"offset": 0.5, "color": "#5c5c5c"}, {"offset": 0.5, "color": "#ababab"}, {"offset": 0.571, "color": "#ababab"}, {"offset": 0.571, "color": "#5c5c5c"}, {"offset": 0.643, "color": "#5c5c5c"}, {"offset": 0.643, "color": "#ababab"}, {"offset": 0.714, "color": "#ababab"}, {"offset": 0.714, "color": "#5c5c5c"}, {"offset": 0.786, "color": "#5c5c5c"}, {"offset": 0.786, "color": "#ababab"}, {"offset": 0.857, "color": "#ababab"}, {"offset": 0.857, "color": "#5c5c5c"}, {"offset": 0.929, "color": "#5c5c5c"}, {"offset": 0.929, "color": "#ababab"}, {"offset": 1, "color": "#ababab"}]}},
        "encoding": {"xOffset": {"field": "d"}, "y": {"field": "v", "type": "quantitative"}}},
       {"mark": {"type": "rule", "color": "black", "strokeWidth": 0.8}, "encoding": {"xOffset": {"field": "d"}, "y": {"field": "v", "type": "quantitative"}, "y2": {"field": "hi"}}},
       {"mark": {"type": "tick", "color": "black", "thickness": 0.8, "size": 6}, "encoding": {"xOffset": {"field": "d"}, "y": {"field": "hi", "type": "quantitative"}}},
       {"mark": {"type": "text", "baseline": "bottom", "dy": -1, "fontSize": 11, "fill": "#111"}, "encoding": {"xOffset": {"field": "d"}, "y": {"field": "hi", "type": "quantitative"}, "text": {"field": "s"}}},
       {"mark": {"type": "text", "baseline": "middle", "dy": -13, "fontSize": 6.5, "fill": "#111"}, "encoding": {"xOffset": {"field": "d"}, "y": {"datum": 1.5}, "text": {"field": "f"}}},
       {"transform": [{"filter": "datum.g === 'mPPARα'"}], "mark": {"type": "rule", "color": "#333", "strokeWidth": 1}, "encoding": {"x": {"field": "g", "type": "nominal", "bandPosition": 1}, "y": {"datum": 0}, "y2": {"datum": -0.067}}},
       {"transform": [{"filter": "datum.g === 'hPPARα'"}], "mark": {"type": "rule", "color": "#333", "strokeWidth": 1}, "encoding": {"x": {"field": "g", "type": "nominal", "bandPosition": 0}, "y": {"datum": 0}, "y2": {"datum": -0.067}}}
     ]},
    {"width": 224, "height": 90,
     "title": {"text": "(Fold)", "anchor": "start", "fontSize": 6.5, "fontWeight": "normal", "dx": 23, "dy": 8, "offset": 0, "color": "#111"},
     "transform": [{"filter": "datum.p === 'p52'"}],
     "encoding": {"x": {"field": "g", "type": "nominal", "scale": {"domain": ["mPPARα", "Ppara-null", "hPPARα"], "paddingInner": 0, "paddingOuter": 0}, "axis": {"title": null}}},
     "layer": [
       {"mark": {"type": "bar", "stroke": "black", "strokeWidth": 0.8},
        "encoding": {
          "xOffset": {"field": "d", "scale": {"domain": ["Control", "1.0 mg/kg", "5.0 mg/kg"], "paddingInner": 0, "paddingOuter": 0.76}},
          "y": {"field": "v", "type": "quantitative", "scale": {"domain": [0, 3], "nice": false}, "axis": {"title": ["Relative Intensity", "p52"], "tickCount": 3, "labelOverlap": false, "labelBound": false, "labelFlush": false}},
          "fill": {"field": "d", "type": "nominal", "scale": {"domain": ["Control", "1.0 mg/kg", "5.0 mg/kg"], "range": ["#ffffff", "#8a8a8a", "#000000"]}, "legend": {"title": null, "orient": "none", "legendX": 32, "legendY": 113}}}},
       {"transform": [{"filter": "datum.d === '1.0 mg/kg'"}],
        "mark": {"type": "bar", "stroke": "black", "strokeWidth": 0.8, "fill": {"gradient": "linear", "x1": 0, "x2": 1, "y1": 0, "y2": 0, "stops": [{"offset": 0, "color": "#5c5c5c"}, {"offset": 0.071, "color": "#5c5c5c"}, {"offset": 0.071, "color": "#ababab"}, {"offset": 0.143, "color": "#ababab"}, {"offset": 0.143, "color": "#5c5c5c"}, {"offset": 0.214, "color": "#5c5c5c"}, {"offset": 0.214, "color": "#ababab"}, {"offset": 0.286, "color": "#ababab"}, {"offset": 0.286, "color": "#5c5c5c"}, {"offset": 0.357, "color": "#5c5c5c"}, {"offset": 0.357, "color": "#ababab"}, {"offset": 0.429, "color": "#ababab"}, {"offset": 0.429, "color": "#5c5c5c"}, {"offset": 0.5, "color": "#5c5c5c"}, {"offset": 0.5, "color": "#ababab"}, {"offset": 0.571, "color": "#ababab"}, {"offset": 0.571, "color": "#5c5c5c"}, {"offset": 0.643, "color": "#5c5c5c"}, {"offset": 0.643, "color": "#ababab"}, {"offset": 0.714, "color": "#ababab"}, {"offset": 0.714, "color": "#5c5c5c"}, {"offset": 0.786, "color": "#5c5c5c"}, {"offset": 0.786, "color": "#ababab"}, {"offset": 0.857, "color": "#ababab"}, {"offset": 0.857, "color": "#5c5c5c"}, {"offset": 0.929, "color": "#5c5c5c"}, {"offset": 0.929, "color": "#ababab"}, {"offset": 1, "color": "#ababab"}]}},
        "encoding": {"xOffset": {"field": "d"}, "y": {"field": "v", "type": "quantitative"}}},
       {"mark": {"type": "rule", "color": "black", "strokeWidth": 0.8}, "encoding": {"xOffset": {"field": "d"}, "y": {"field": "v", "type": "quantitative"}, "y2": {"field": "hi"}}},
       {"mark": {"type": "tick", "color": "black", "thickness": 0.8, "size": 6}, "encoding": {"xOffset": {"field": "d"}, "y": {"field": "hi", "type": "quantitative"}}},
       {"mark": {"type": "text", "baseline": "bottom", "dy": -1, "fontSize": 11, "fill": "#111"}, "encoding": {"xOffset": {"field": "d"}, "y": {"field": "hi", "type": "quantitative"}, "text": {"field": "s"}}},
       {"mark": {"type": "text", "baseline": "middle", "dy": -13, "fontSize": 6.5, "fill": "#111"}, "encoding": {"xOffset": {"field": "d"}, "y": {"datum": 3}, "text": {"field": "f"}}},
       {"transform": [{"filter": "datum.g === 'mPPARα'"}], "mark": {"type": "rule", "color": "#333", "strokeWidth": 1}, "encoding": {"x": {"field": "g", "type": "nominal", "bandPosition": 1}, "y": {"datum": 0}, "y2": {"datum": -0.133}}},
       {"transform": [{"filter": "datum.g === 'hPPARα'"}], "mark": {"type": "rule", "color": "#333", "strokeWidth": 1}, "encoding": {"x": {"field": "g", "type": "nominal", "bandPosition": 0}, "y": {"datum": 0}, "y2": {"datum": -0.133}}}
     ]},
    {"width": 224, "height": 90,
     "title": {"text": "(Fold)", "anchor": "start", "fontSize": 6.5, "fontWeight": "normal", "dx": 26, "dy": 8, "offset": 0, "color": "#111"},
     "transform": [{"filter": "datum.p === 'PCNA'"}],
     "encoding": {"x": {"field": "g", "type": "nominal", "scale": {"domain": ["mPPARα", "Ppara-null", "hPPARα"], "paddingInner": 0, "paddingOuter": 0}, "axis": {"title": null}}},
     "layer": [
       {"mark": {"type": "bar", "stroke": "black", "strokeWidth": 0.8},
        "encoding": {
          "xOffset": {"field": "d", "scale": {"domain": ["Control", "1.0 mg/kg", "5.0 mg/kg"], "paddingInner": 0, "paddingOuter": 0.76}},
          "y": {"field": "v", "type": "quantitative", "scale": {"domain": [0, 4], "nice": false}, "axis": {"title": ["Relative Intensity", "PCNA"], "tickCount": 4, "labelOverlap": false, "labelBound": false, "labelFlush": false}},
          "fill": {"field": "d", "type": "nominal", "scale": {"domain": ["Control", "1.0 mg/kg", "5.0 mg/kg"], "range": ["#ffffff", "#8a8a8a", "#000000"]}, "legend": {"title": null, "orient": "none", "legendX": 32, "legendY": 113}}}},
       {"transform": [{"filter": "datum.d === '1.0 mg/kg'"}],
        "mark": {"type": "bar", "stroke": "black", "strokeWidth": 0.8, "fill": {"gradient": "linear", "x1": 0, "x2": 1, "y1": 0, "y2": 0, "stops": [{"offset": 0, "color": "#5c5c5c"}, {"offset": 0.071, "color": "#5c5c5c"}, {"offset": 0.071, "color": "#ababab"}, {"offset": 0.143, "color": "#ababab"}, {"offset": 0.143, "color": "#5c5c5c"}, {"offset": 0.214, "color": "#5c5c5c"}, {"offset": 0.214, "color": "#ababab"}, {"offset": 0.286, "color": "#ababab"}, {"offset": 0.286, "color": "#5c5c5c"}, {"offset": 0.357, "color": "#5c5c5c"}, {"offset": 0.357, "color": "#ababab"}, {"offset": 0.429, "color": "#ababab"}, {"offset": 0.429, "color": "#5c5c5c"}, {"offset": 0.5, "color": "#5c5c5c"}, {"offset": 0.5, "color": "#ababab"}, {"offset": 0.571, "color": "#ababab"}, {"offset": 0.571, "color": "#5c5c5c"}, {"offset": 0.643, "color": "#5c5c5c"}, {"offset": 0.643, "color": "#ababab"}, {"offset": 0.714, "color": "#ababab"}, {"offset": 0.714, "color": "#5c5c5c"}, {"offset": 0.786, "color": "#5c5c5c"}, {"offset": 0.786, "color": "#ababab"}, {"offset": 0.857, "color": "#ababab"}, {"offset": 0.857, "color": "#5c5c5c"}, {"offset": 0.929, "color": "#5c5c5c"}, {"offset": 0.929, "color": "#ababab"}, {"offset": 1, "color": "#ababab"}]}},
        "encoding": {"xOffset": {"field": "d"}, "y": {"field": "v", "type": "quantitative"}}},
       {"mark": {"type": "rule", "color": "black", "strokeWidth": 0.8}, "encoding": {"xOffset": {"field": "d"}, "y": {"field": "v", "type": "quantitative"}, "y2": {"field": "hi"}}},
       {"mark": {"type": "tick", "color": "black", "thickness": 0.8, "size": 6}, "encoding": {"xOffset": {"field": "d"}, "y": {"field": "hi", "type": "quantitative"}}},
       {"mark": {"type": "text", "baseline": "bottom", "dy": -1, "fontSize": 11, "fill": "#111"}, "encoding": {"xOffset": {"field": "d"}, "y": {"field": "hi", "type": "quantitative"}, "text": {"field": "s"}}},
       {"mark": {"type": "text", "baseline": "middle", "dy": -13, "fontSize": 6.5, "fill": "#111"}, "encoding": {"xOffset": {"field": "d"}, "y": {"datum": 4}, "text": {"field": "f"}}},
       {"transform": [{"filter": "datum.g === 'mPPARα'"}], "mark": {"type": "rule", "color": "#333", "strokeWidth": 1}, "encoding": {"x": {"field": "g", "type": "nominal", "bandPosition": 1}, "y": {"datum": 0}, "y2": {"datum": -0.178}}},
       {"transform": [{"filter": "datum.g === 'hPPARα'"}], "mark": {"type": "rule", "color": "#333", "strokeWidth": 1}, "encoding": {"x": {"field": "g", "type": "nominal", "bandPosition": 0}, "y": {"datum": 0}, "y2": {"datum": -0.178}}}
     ]}
  ],
  "config": {
    "font": "Liberation Serif",
    "view": {"stroke": null},
    "axis": {"grid": false, "domainColor": "#333", "tickColor": "#333", "labelColor": "#222", "titleColor": "#222", "labelFontSize": 8, "titleFontSize": 9, "titleFontWeight": "normal", "labelFont": "Liberation Serif", "titleFont": "Liberation Serif", "labelOverlap": false},
    "axisY": {"tickSize": 3, "labelPadding": 3, "titlePadding": 6},
    "axisX": {"ticks": false, "labelPadding": 8, "labelAngle": 0, "labelFontStyle": "italic", "labelFontWeight": "bold", "labelFontSize": 8},
    "legend": {"direction": "horizontal", "symbolType": "square", "symbolSize": 45, "symbolStrokeColor": "black", "symbolStrokeWidth": 0.8, "labelFontSize": 8.5, "labelFont": "Liberation Serif", "labelColor": "#111", "columnPadding": 10}
  }
}
